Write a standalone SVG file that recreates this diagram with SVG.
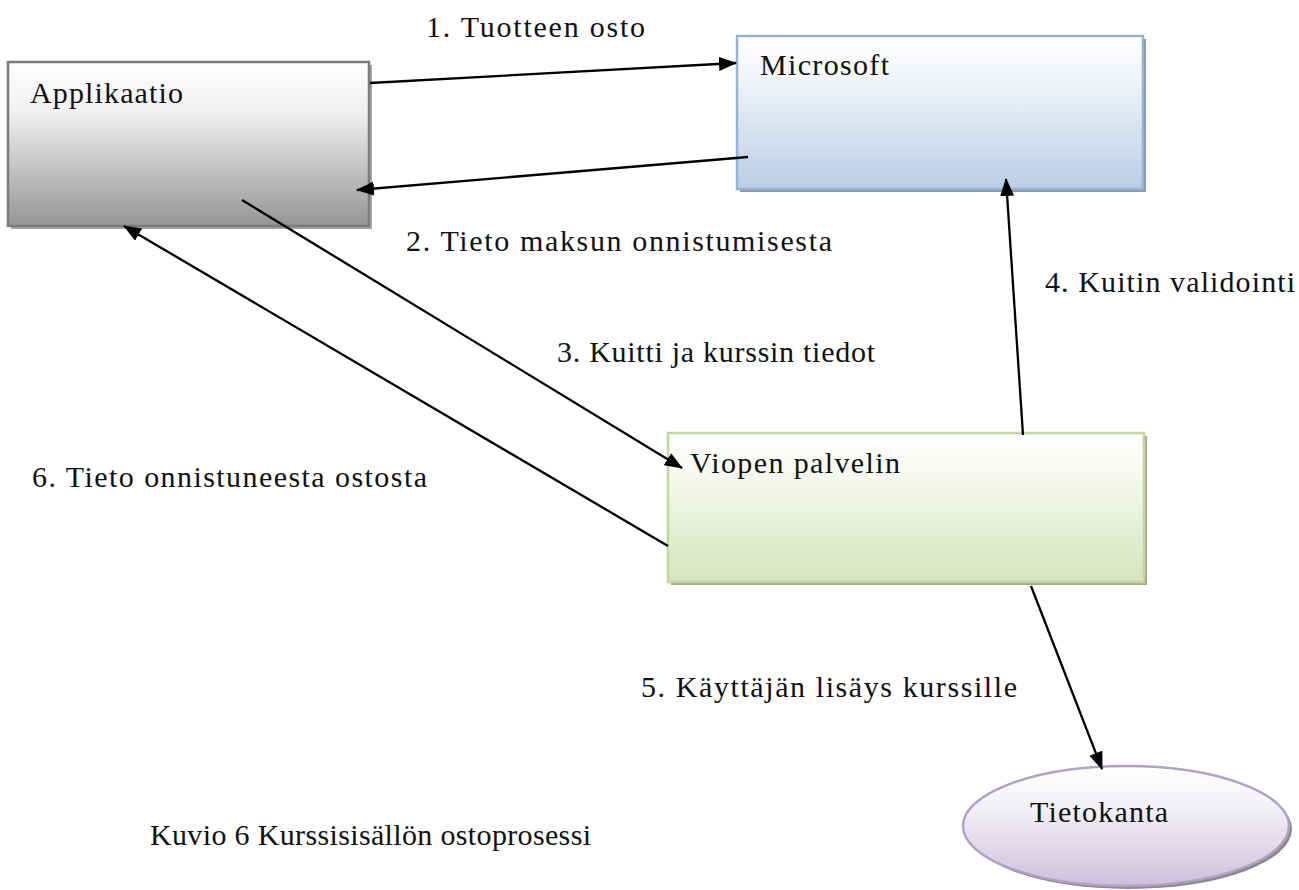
<svg xmlns="http://www.w3.org/2000/svg" width="1299" height="890" viewBox="0 0 1299 890">
<style>
text{font-family:"Liberation Serif","Times New Roman",serif;font-size:30px;fill:#111}
.c{stroke:#000;stroke-width:2.3;fill:none;marker-end:url(#ah)}
</style>
<defs>
<marker id="ah" viewBox="0 0 18 14" refX="17" refY="7" markerWidth="18" markerHeight="14" markerUnits="userSpaceOnUse" orient="auto"><path d="M0,0 L18,7 L0,14 z" fill="#000"/></marker>
<linearGradient id="gA" x1="0" y1="0" x2="0" y2="1"><stop offset="0" stop-color="#ffffff"/><stop offset="0.3" stop-color="#f0f0f0"/><stop offset="1" stop-color="#959595"/></linearGradient>
<linearGradient id="gM" x1="0" y1="0" x2="0" y2="1"><stop offset="0" stop-color="#ffffff"/><stop offset="0.3" stop-color="#f0f4f9"/><stop offset="1" stop-color="#b9cde5"/></linearGradient>
<linearGradient id="gV" x1="0" y1="0" x2="0" y2="1"><stop offset="0" stop-color="#ffffff"/><stop offset="0.3" stop-color="#f5f8ee"/><stop offset="1" stop-color="#d7e4bd"/></linearGradient>
<linearGradient id="gT" x1="0" y1="0" x2="0" y2="1"><stop offset="0" stop-color="#ffffff"/><stop offset="0.35" stop-color="#f3f0f6"/><stop offset="1" stop-color="#ccc0da"/></linearGradient>
</defs>
<g id="applikaatio">
<rect x="11" y="65" width="361" height="164" fill="#a6a6a6"/>
<rect x="8" y="62" width="361" height="164" fill="url(#gA)" stroke="#7a7a7a" stroke-width="2.5"/>
<text x="30" y="103" textLength="153" lengthAdjust="spacing">Applikaatio</text>
</g>
<g id="microsoft">
<rect x="740" y="39" width="406" height="153" fill="#8c9aae"/>
<rect x="737" y="36" width="406" height="153" fill="url(#gM)" stroke="#95b3d7" stroke-width="2.5"/>
<text x="760" y="75" textLength="129" lengthAdjust="spacing">Microsoft</text>
</g>
<g id="viopen">
<rect x="671" y="436" width="476" height="149" fill="#a3aa8c"/>
<rect x="668" y="433" width="476" height="149" fill="url(#gV)" stroke="#c3d69b" stroke-width="2.5"/>
<text x="690" y="473" textLength="210" lengthAdjust="spacing">Viopen palvelin</text>
</g>
<g id="tietokanta">
<ellipse cx="1129" cy="829" rx="163" ry="60" fill="#8a8a8a"/>
<ellipse cx="1126" cy="826" rx="163" ry="60" fill="url(#gT)" stroke="#b2a1c7" stroke-width="2.5"/>
<text x="1030" y="822" textLength="138" lengthAdjust="spacing">Tietokanta</text>
</g>
<g id="connectors">
<line class="c" x1="370" y1="83" x2="736" y2="63"/>
<line class="c" x1="748" y1="157" x2="357" y2="190"/>
<line class="c" x1="242" y1="200" x2="682" y2="468"/>
<line class="c" x1="668" y1="546" x2="124" y2="226"/>
<line class="c" x1="1023" y1="435" x2="1006" y2="179"/>
<line class="c" x1="1031" y1="586" x2="1102" y2="769"/>
</g>
<g id="labels">
<text x="426" y="37" textLength="219" lengthAdjust="spacing">1. Tuotteen osto</text>
<text x="406" y="251" textLength="426" lengthAdjust="spacing">2. Tieto maksun onnistumisesta</text>
<text x="1045" y="292" textLength="250" lengthAdjust="spacing">4. Kuitin validointi</text>
<text x="557" y="362" textLength="318" lengthAdjust="spacing">3. Kuitti ja kurssin tiedot</text>
<text x="32" y="487" textLength="395" lengthAdjust="spacing">6. Tieto onnistuneesta ostosta</text>
<text x="641" y="697" textLength="376" lengthAdjust="spacing">5. Käyttäjän lisäys kurssille</text>
<text x="150" y="845" textLength="441" lengthAdjust="spacing">Kuvio 6 Kurssisisällön ostoprosessi</text>
</g>
</svg>
